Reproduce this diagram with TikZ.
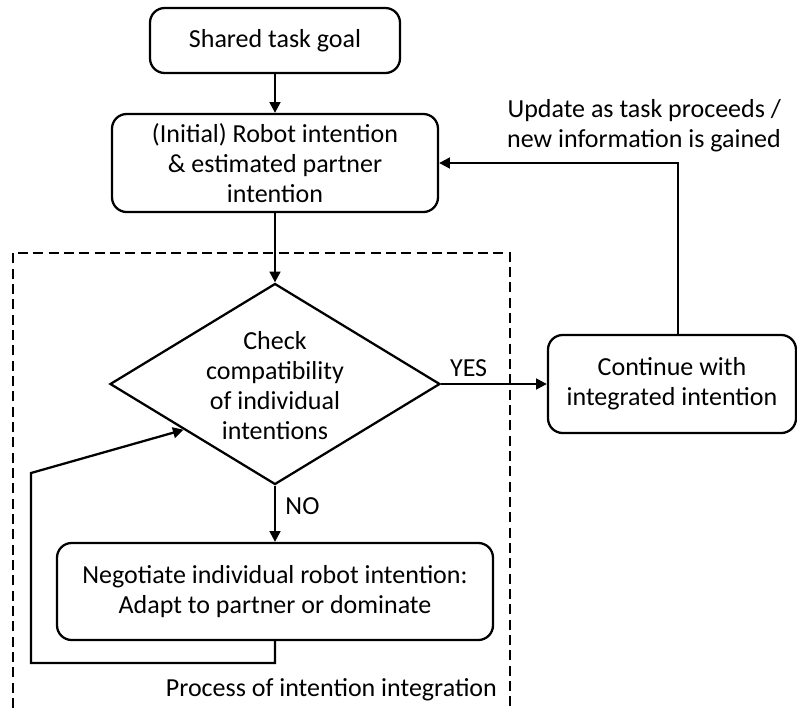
\documentclass[tikz,border=0pt]{standalone}
\usepackage{fontspec}
\setmainfont{Carlito}
\usetikzlibrary{arrows.meta,shapes.geometric,calc}

\begin{document}
\begin{tikzpicture}[x=0.75pt,y=-0.75pt,line width=1.7pt,
  >={Triangle[length=8pt,width=8pt]},
  box/.style={rectangle,rounded corners=11pt,draw,align=center,font=\fontsize{19.5}{22.5}\selectfont},
  txt/.style={inner sep=0pt,align=center,font=\fontsize{19.5}{22.5}\selectfont}]
\useasboundingbox (0,0) rectangle (797,708);

\path (275,40.5) node[box,minimum width=187.5pt,minimum height=48.75pt] (G) {Shared task goal};
\path (275,163) node[box,minimum width=244.5pt,minimum height=73.5pt] (RI) {(Initial) Robot intention\\ \& estimated partner\\ intention};
\draw[->] (G) -- (RI);

% dashed frame
\draw[line width=1.5pt,dash pattern=on 7.5pt off 4pt] (13,708) -- (13,253) -- (510,253) -- (510,708);

\path (275,384) node[diamond,draw,inner sep=0pt,minimum width=247.5pt,minimum height=150.75pt] (CK) {};
\path (275,386) node[txt] (CKT) {Check\\ compatibility\\ of individual\\ intentions};
\draw[->] (RI) -- (CK);

\path (672,384) node[box,minimum width=186pt,minimum height=73.5pt] (CI) {Continue with\\ integrated intention};
\draw[->] (CK.east) -- node[txt,pos=.26,above=5pt]{YES} (CI.west);

\path (275,591.5) node[box,minimum width=327pt,minimum height=72.75pt] (NG) {Negotiate individual robot intention:\\ Adapt to partner or dominate};
\draw[->] (CK.south) -- node[txt,pos=.36,right=7pt]{NO} (NG.north);

% loop back
\coordinate (L1) at (31,663);
\coordinate (L2) at (31,473);
\coordinate (L3) at ($(CK.west)!0.45!(CK.south)$);
\draw[->] (NG.south) |- (L1) -- (L2) -- (L3);

% update
\draw[->] ([xshift=4.5pt]CI.north) |- (RI.east);
\path (782,126) node[txt,anchor=east,align=right] (UP) {Update as task proceeds /\\ new information is gained};

\path (498,690) node[txt,anchor=east] (PR) {Process of intention integration};
\end{tikzpicture}
\end{document}
